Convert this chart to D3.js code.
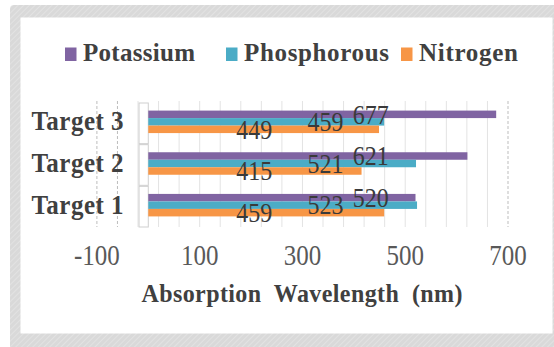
<!DOCTYPE html>
<html><head><meta charset="utf-8">
<script src="https://cdn.jsdelivr.net/npm/d3@7"></script>
<style>html,body{margin:0;padding:0;background:#fff;} svg{display:block;}
.serif{font-family:"Liberation Serif","Times New Roman",Times,serif;}</style>
</head><body>
<svg id="chart" width="554" height="347"></svg>
<script>
// ---- data ----
const categories = ["Target 1", "Target 2", "Target 3"];
const seriesNames = ["Potassium", "Phosphorous", "Nitrogen"];
const potassium = [520, 621, 677];
const phosphorous = [523, 521, 459];
const nitrogen = [459, 415, 449];
const tickValues = [-100, 100, 300, 500, 700];
const axisTitle = "Absorption  Wavelength  (nm)";

const seriesValues = [potassium, phosphorous, nitrogen];
const colors = ["#8064a2", "#4bacc6", "#f79646"];

const svg = d3.select("#chart");
const W = 554, H = 347;

// ---- frame ----
const defs = svg.append("defs");
const pat = defs.append("pattern").attr("id", "hatch").attr("patternUnits", "userSpaceOnUse")
  .attr("width", 4).attr("height", 4).attr("patternTransform", "rotate(45)");
pat.append("rect").attr("width", 4).attr("height", 4).attr("fill", "#d9d9d9");
pat.append("line").attr("x1", 0).attr("y1", 0).attr("x2", 0).attr("y2", 4)
  .attr("stroke", "#e6e6e6").attr("stroke-width", 1.5);

svg.append("rect").attr("x", 0).attr("y", 0).attr("width", W).attr("height", H).attr("fill", "#fff");
svg.append("rect").attr("x", 10).attr("y", 5).attr("width", W + 20).attr("height", H + 20)
  .attr("rx", 4).attr("fill", "url(#hatch)");
svg.append("rect").attr("x", 20.5).attr("y", 17.5).attr("width", 532).attr("height", 316)
  .attr("fill", "#fff");

// ---- scales ----
const x = d3.scaleLinear().domain([-100, 700]).range([96.9, 508]);
const y = d3.scaleBand().domain(categories.slice().reverse()).range([101, 226])
  .paddingInner(0.46).paddingOuter(0.23);
const ySub = d3.scaleBand().domain(seriesNames).range([0, y.bandwidth()]);

// ---- gridlines ----
const gridValues = d3.range(-100, 701, 40);
svg.append("g").selectAll("line").data(gridValues).join("line")
  .attr("x1", d => x(d)).attr("x2", d => x(d))
  .attr("y1", 101).attr("y2", 227)
  .attr("stroke", d => (d === -100 || d === 700 || d === -60) ? "#bdbdbd" : "#e3e3e3")
  .attr("stroke-dasharray", d => (d === -100 || d === 700 || d === -60) ? "3,2" : null)
  .attr("stroke-width", 1);

// ---- category axis boxes ----
const step = y.step();
svg.append("g").selectAll("rect").data(categories).join("rect")
  .attr("x", x(-18)).attr("width", x(0) - x(-18))
  .attr("y", (d, i) => 101 + 2 + (2 - i) * step).attr("height", step - 1)
  .attr("fill", "#fff").attr("stroke", "#cfcfcf").attr("stroke-width", 1);

// ---- bars ----
const gBars = svg.append("g");
seriesNames.forEach((s, si) => {
  gBars.append("g").selectAll("rect").data(categories).join("rect")
    .attr("x", x(0))
    .attr("y", (c) => y(c) + ySub(s))
    .attr("width", (c, ci) => x(seriesValues[si][ci]) - x(0))
    .attr("height", ySub.bandwidth())
    .attr("fill", colors[si]);
});

// text helper: slight vertical stretch like the reference raster
function stretched(sel, sy) {
  sel.each(function () {
    const t = d3.select(this);
    const yy = +t.attr("y");
    t.attr("transform", `translate(0,${yy}) scale(1,${sy}) translate(0,${-yy})`);
  });
}

// ---- data labels (positioned at fixed per-series anchors as in the original) ----
const labelAnchor = { Potassium: 433, Phosphorous: 345, Nitrogen: 206 };
const gLab = svg.append("g");
seriesNames.forEach((s, si) => {
  const t = gLab.append("g").selectAll("text").data(categories).join("text")
    .attr("class", "serif")
    .attr("x", x(labelAnchor[s]))
    .attr("y", c => y(c) + ySub(s) + ySub.bandwidth() / 2)
    .attr("dy", "0.35em")
    .attr("text-anchor", "middle")
    .attr("font-size", 24)
    .attr("fill", "#3a3a3a")
    .text((c, ci) => seriesValues[si][ci]);
  stretched(t, 1.1);
});

// ---- category labels ----
const cl = svg.append("g").selectAll("text").data(categories).join("text")
  .attr("class", "serif")
  .attr("x", 123.5)
  .attr("y", c => y(c) + y.bandwidth() / 2 + 8.5)
  .attr("text-anchor", "end")
  .attr("font-weight", "bold")
  .attr("font-size", 25)
  .attr("fill", "#404040")
  .attr("textLength", 92).attr("lengthAdjust", "spacing")
  .text(d => d);
stretched(cl, 1.08);

// ---- value axis ticks ----
const tk = svg.append("g").selectAll("text").data(tickValues).join("text")
  .attr("class", "serif")
  .attr("x", d => x(d)).attr("y", 265)
  .attr("text-anchor", "middle")
  .attr("font-size", 25)
  .attr("fill", "#595959")
  .text(d => d);
stretched(tk, 1.15);

// ---- axis title ----
const tt = svg.append("text")
  .attr("class", "serif")
  .attr("x", 141.5).attr("y", 302)
  .attr("font-weight", "bold").attr("font-size", 24)
  .attr("fill", "#404040")
  .style("white-space", "pre")
  .attr("textLength", 321).attr("lengthAdjust", "spacing")
  .text(axisTitle);
stretched(tt, 1.05);

// ---- legend ----
const legendX = [65, 226, 401];
const legendW = [112, 145, 99];
const lg = svg.append("g");
seriesNames.forEach((s, i) => {
  lg.append("rect").attr("x", legendX[i]).attr("y", 47.5).attr("width", 11.5).attr("height", 13.5)
    .attr("fill", colors[i]);
  const t = lg.append("text").attr("class", "serif").attr("x", legendX[i] + 18).attr("y", 61)
    .attr("font-weight", "bold").attr("font-size", 25)
    .attr("fill", "#404040")
    .attr("textLength", legendW[i]).attr("lengthAdjust", "spacing")
    .text(s);
  stretched(t, 1.0);
});
</script>
</body></html>
